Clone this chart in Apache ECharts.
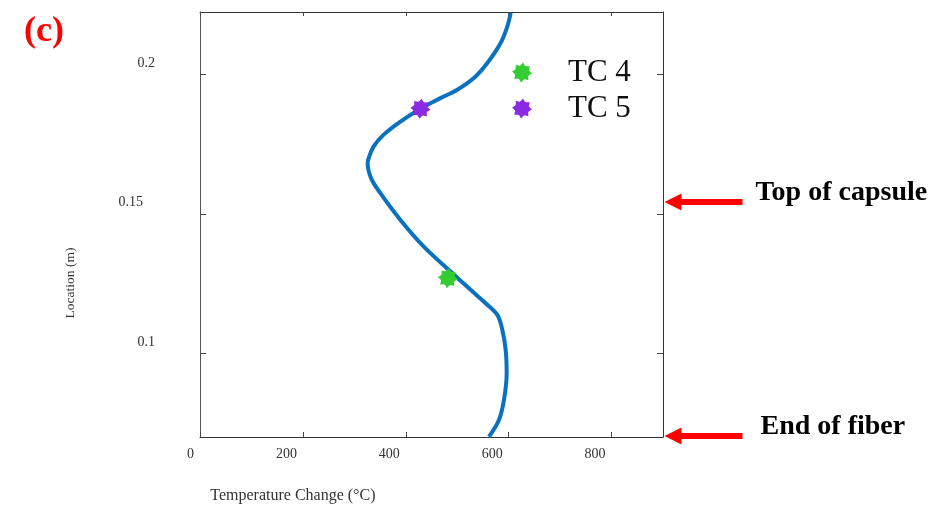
<!DOCTYPE html>
<html>
<head>
<meta charset="utf-8">
<script src="https://cdn.jsdelivr.net/npm/echarts@6/dist/echarts.min.js"></script>
<style>
  html, body { margin: 0; padding: 0; background: #fff; }
  #chart { width: 948px; height: 505px; }
</style>
</head>
<body>
<div id="chart"></div>
<script>
// Temperature change profile along the fiber (x: °C, y: location in m)
const profileTemp = [561.6, 581.1, 590.9, 596.1, 594.2, 587.7, 578.0, 555.2, 526.0, 487.0, 435.0,
  389.6, 350.6, 332.5, 325.9, 327.9, 337.6, 357.1, 389.6, 428.6, 467.5, 500.1, 532.4, 558.5,
  584.4, 597.5, 603.9];
const profileLoc = [0.0701, 0.0761, 0.0833, 0.0929, 0.1012, 0.1084, 0.1138, 0.1180, 0.1228, 0.1294,
  0.1383, 0.1479, 0.1575, 0.1629, 0.1683, 0.1701, 0.1743, 0.1785, 0.1832, 0.1878, 0.1916, 0.1946,
  0.1988, 0.2042, 0.2114, 0.2174, 0.2222];

// Thermocouple readings
const tcNames = ['TC 4', 'TC 5'];
const tcTemp = [481.8, 428.6];
const tcLoc = [0.1270, 0.1878];
const tcColors = ['#33cc33', '#8a2be2'];

// Axes
const xTicks = [0, 200, 400, 600, 800];
const yTicks = [0.1, 0.15, 0.2];
const yTickLabels = ['0.1', '0.15', '0.2'];
const xRange = [0, 900];
const yRange = [0.07, 0.2225];

// Annotated locations
const noteLabels = ['Top of capsule', 'End of fiber'];
const noteLoc = [0.1543, 0.0704];

const serif = 'Liberation Serif, Times New Roman, serif';

// eight-spoke asterisk marker
function asteriskPath() {
  const pts = [];
  for (let i = 0; i < 32; i++) {
    const a = Math.PI * i / 16 - Math.PI / 2;
    const k = i % 4;
    const r = (k === 0 || k === 1) ? 10 : 7.4;
    const off = (k === 1) ? -Math.PI / 32 : (k === 0 ? Math.PI / 32 : 0);
    pts.push((10 + r * Math.cos(a + off)).toFixed(2) + ',' + (10 + r * Math.sin(a + off)).toFixed(2));
  }
  return 'path://M' + pts.join('L') + 'Z';
}
const starSymbol = asteriskPath();

const chart = echarts.init(document.getElementById('chart'));

const axisLineStyle = { color: '#333', width: 1 };
const tickStyle = { color: '#444', width: 1 };

const option = {
  backgroundColor: '#fff',
  animation: false,
  title: {
    text: '(c)',
    left: 19,
    top: 7,
    textStyle: { fontFamily: serif, fontSize: 36, fontWeight: 'bold', color: '#ff0000', lineHeight: 40 }
  },
  grid: { left: 200, right: 285, top: 12, bottom: 68, containLabel: false, outerBoundsMode: 'none' },
  legend: {
    data: tcNames,
    orient: 'vertical',
    left: 507,
    top: 52,
    itemWidth: 20,
    itemHeight: 20,
    itemGap: 5,
    textStyle: { fontFamily: serif, fontSize: 31, color: '#111', lineHeight: 30, padding: [0, 0, 0, 31] }
  },
  xAxis: [{
    type: 'value',
    min: xRange[0], max: xRange[1],
    position: 'bottom',
    splitLine: { show: false },
    axisLine: { show: true, onZero: false, lineStyle: axisLineStyle },
    axisTick: { show: true, inside: true, length: 5, lineStyle: tickStyle, customValues: xTicks },
    axisLabel: {
      customValues: xTicks,
      fontFamily: serif, fontSize: 14, color: '#333',
      align: 'right', margin: 10, padding: [0, 6, 0, 0]
    },
    name: 'Temperature Change (°C)',
    nameLocation: 'middle',
    nameGap: 51,
    nameTextStyle: { fontFamily: serif, fontSize: 16, color: '#333', align: 'right', padding: [0, 56, 0, 0] }
  }, {
    type: 'value',
    min: xRange[0], max: xRange[1],
    position: 'top',
    splitLine: { show: false },
    axisLine: { show: true, onZero: false, lineStyle: axisLineStyle },
    axisTick: { show: true, inside: true, length: 4, lineStyle: tickStyle, customValues: xTicks },
    axisLabel: { show: false }
  }],
  yAxis: [{
    type: 'value',
    min: yRange[0], max: yRange[1],
    position: 'left',
    splitLine: { show: false },
    axisLine: { show: true, onZero: false, lineStyle: { color: '#555', width: 1 } },
    axisTick: { show: true, inside: true, length: 6, lineStyle: tickStyle, customValues: yTicks },
    axisLabel: {
      customValues: yTicks,
      fontFamily: serif, fontSize: 14, color: '#333',
      align: 'right', margin: 45, verticalAlign: 'middle', padding: [0, 0, 23, 0],
      formatter: function (v) {
        const i = yTicks.findIndex(t => Math.abs(t - v) < 1e-9);
        const s = i >= 0 ? yTickLabels[i] : String(v);
        return s === '0.15' ? '{s|' + s + '}' : s;
      },
      rich: { s: { fontFamily: serif, fontSize: 14, color: '#333', padding: [0, 12, 0, 0] } }
    },
    name: 'Location (m)',
    nameLocation: 'middle',
    nameGap: 123,
    nameTextStyle: { fontFamily: serif, fontSize: 13.5, color: '#333', padding: [0, 117, 0, 0] }
  }, {
    type: 'value',
    min: yRange[0], max: yRange[1],
    position: 'right',
    splitLine: { show: false },
    axisLine: { show: true, onZero: false, lineStyle: axisLineStyle },
    axisTick: { show: true, inside: true, length: 6, lineStyle: tickStyle, customValues: yTicks },
    axisLabel: { show: false }
  }],
  series: [{
    name: 'profile',
    type: 'line',
    xAxisIndex: 0, yAxisIndex: 0,
    data: profileTemp.map((t, i) => [t, profileLoc[i]]),
    smooth: 0.35,
    symbol: 'none',
    lineStyle: { color: '#0a71bf', width: 4 },
    z: 2
  }].concat(tcNames.map((n, i) => ({
    name: n,
    type: 'scatter',
    xAxisIndex: 0, yAxisIndex: 0,
    data: [[tcTemp[i], tcLoc[i]]],
    symbol: starSymbol,
    symbolSize: 20,
    itemStyle: { color: tcColors[i], opacity: 1 },
    z: 3
  })))
};

chart.setOption(option);

// Red arrows pointing at annotated locations, placed from the y scale
function drawNotes() {
  const rect = chart.getModel().getComponent('grid', 0).coordinateSystem.getRect();
  const tipX = rect.x + rect.width + 1.5;
  const els = [];
  noteLabels.forEach((label, i) => {
    const y = chart.convertToPixel({ yAxisIndex: 0 }, noteLoc[i]);
    els.push({
      type: 'polygon',
      shape: {
        points: [
          [tipX, y], [tipX + 17, y - 8.5], [tipX + 17, y - 3], [tipX + 78, y - 3],
          [tipX + 78, y + 3], [tipX + 17, y + 3], [tipX + 17, y + 8.5]
        ]
      },
      style: { fill: '#ff0000' },
      silent: true
    });
    els.push({
      type: 'text',
      x: tipX + (i === 0 ? 91 : 96),
      y: y - 9,
      style: {
        text: label,
        fontFamily: serif, fontSize: 28, fontWeight: 'bold', fill: '#000',
        align: 'left', verticalAlign: 'middle'
      },
      silent: true
    });
  });
  chart.setOption({ graphic: els });
}
drawNotes();
</script>
</body>
</html>
